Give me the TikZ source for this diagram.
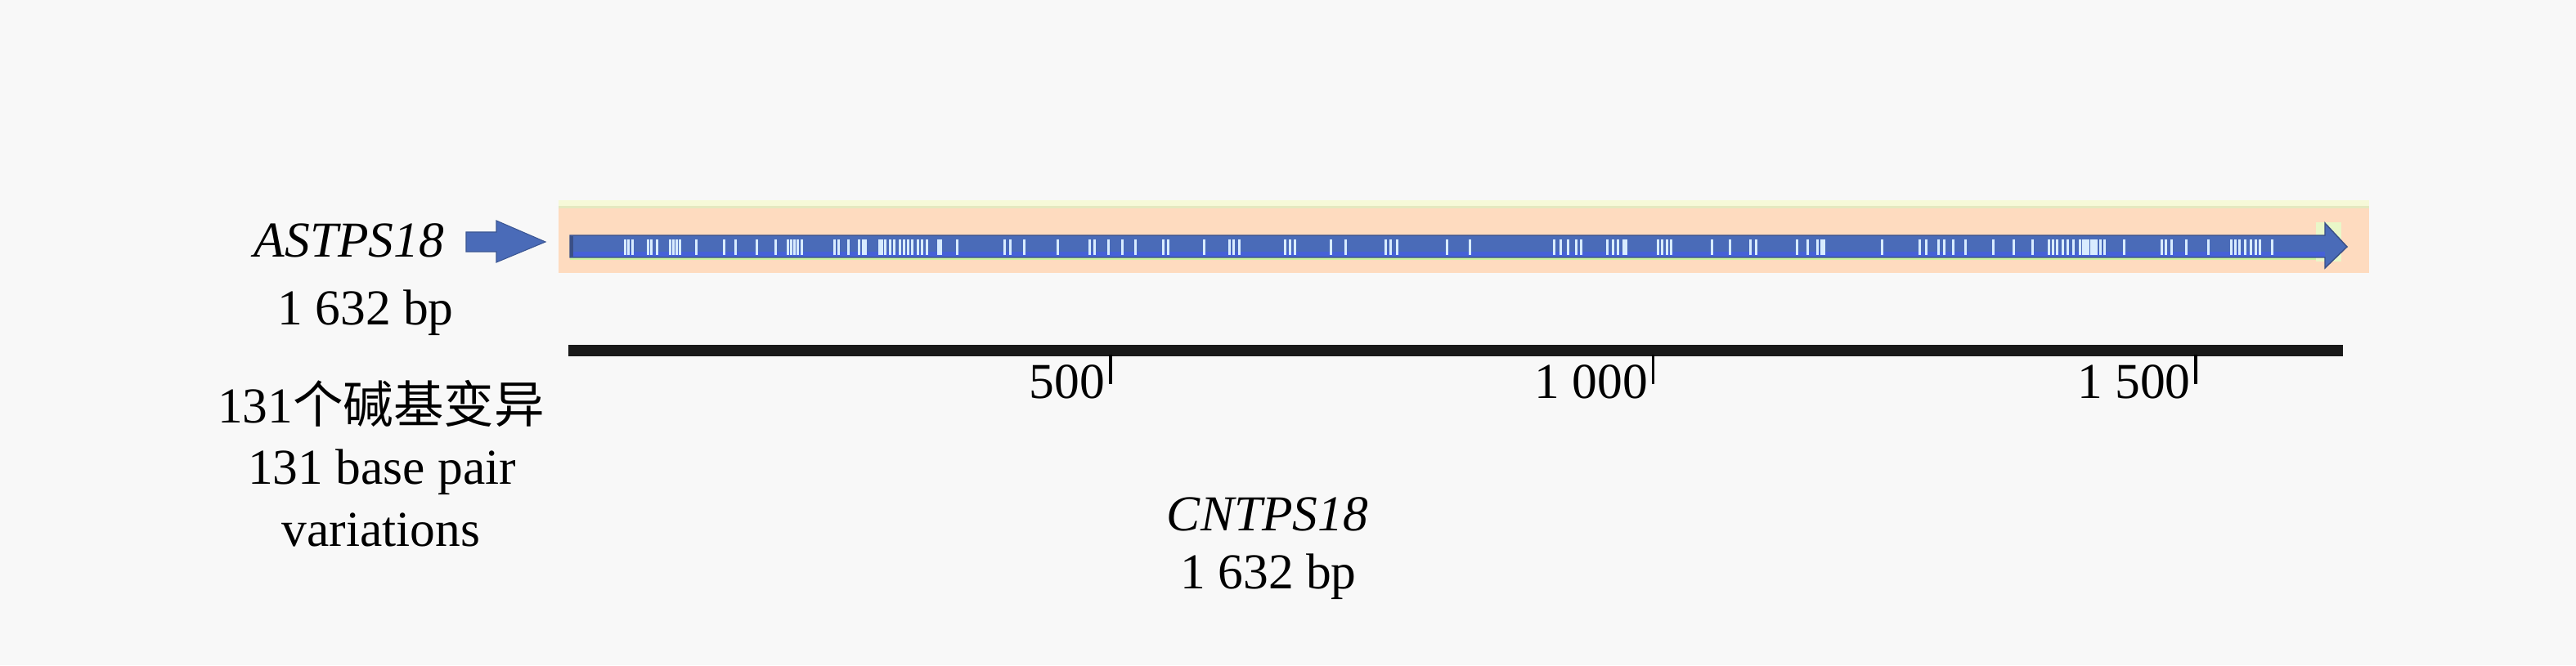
\documentclass[tikz,border=0pt]{standalone}
\usepackage{fontspec}
\setmainfont{Liberation Serif}
\newfontfamily\cjk{Noto Sans CJK SC}
\usepackage{tikz}
\usetikzlibrary{positioning}

\definecolor{bgcol}{HTML}{F8F8F8}
\definecolor{bandcol}{HTML}{FEDBBF}
\definecolor{bandtop}{HTML}{F6F9D8}
\definecolor{bandline}{HTML}{E4E8C0}
\definecolor{genecol}{HTML}{4A6BB8}
\definecolor{genelow}{HTML}{4661D8}
\definecolor{geneedge}{HTML}{3A4F86}
\definecolor{greenline}{HTML}{CBF3A2}
\definecolor{markcol}{HTML}{D8ECFF}

\begin{document}
\begin{tikzpicture}[
    lab/.style={font=\fontsize{17.5}{20}\selectfont, inner sep=0pt, anchor=base},
    genelab/.style={lab, font=\fontsize{17.5}{20}\selectfont\itshape},
    varmark/.style={draw=markcol, line width=0.85pt},
    ticks/.style={draw=black, line width=1.1pt}
]
  \useasboundingbox[fill=bgcol] (0,0) rectangle (31.5,8.14);

  % Alignment band
  \fill[bandcol] (6.83,4.80) rectangle (28.97,5.69);
  \fill[bandtop] (6.83,5.59) rectangle (28.97,5.69);
  \fill[bandline] (6.83,5.59) rectangle (28.97,5.62);
  \fill[greenline] (6.97,4.96) rectangle (28.43,4.99);
  \fill[bandtop!70!greenline] (28.32,4.94) rectangle (28.63,5.42);

  % Gene arrow
  \fill[genecol, draw=geneedge, line width=0.4pt]
      (6.97,5.26) -- (28.43,5.26) -- (28.43,5.41) -- (28.70,5.12)
      -- (28.43,4.86) -- (28.43,4.99) -- (6.97,4.99) -- cycle;
  \fill[genelow] (6.98,5.00) rectangle (28.43,5.06);
  \draw[geneedge, line width=1.2pt] (6.99,5.00) -- (6.99,5.25);

  % Variations
  \foreach \p in {764,768,773,792,796,803,819,823,827,831,851,885,899,925,948,
                  963,967,971,975,980,1020,1025,1037,1050,1055,1058,1075,1078,
                  1082,1088,1093,1100,1105,1110,1115,1122,1127,1133,1147,1150,
                  1170,1228,1235,1252,1293,1332,1338,1355,1372,1388,1422,1428,
                  1472,1503,1508,1515,1571,1577,1583,1627,1645,1694,1700,1708,
                  1769,1797,1900,1908,1917,1927,1933,1965,1972,1978,1985,1988,
                  2027,2032,2038,2043,2093,2115,2140,2147,2197,2210,2222,2227,
                  2230,2301,2347,2355,2370,2377,2388,2403,2437,2462,2485,2505,
                  2510,2515,2522,2528,2535,2543,2547,2550,2553,2557,2560,2563,
                  2568,2573,2597,2643,2648,2655,2673,2700,2728,2733,2738,2745,
                  2752,2758,2763,2778}
    \draw[varmark] (\p/100,5.21) -- (\p/100,5.02);

  % Left arrow
  \fill[genecol, draw=genecol!80!black, line width=0.3pt]
      (5.70,5.30) -- (6.07,5.30) -- (6.07,5.44) -- (6.67,5.18)
      -- (6.07,4.93) -- (6.07,5.06) -- (5.70,5.06) -- cycle;

  % Scale
  \fill[black!90] (6.95,3.78) rectangle (28.65,3.92);
  \foreach \v/\t in {500/500, 1000/{1 000}, 1500/{1 500}} {
    \draw[ticks] (6.94+\v*0.013268,3.80) -- (6.94+\v*0.013268,3.44);
    \node[lab, anchor=base east] (tick\v) at (6.88+\v*0.013268,3.26) {\t};
  }

  % Nodes
  \node[genelab] (astps) at (4.27,4.99) {ASTPS18};
  \node[lab] (astpslen) at (4.47,4.16) {1 632 bp};
  \node[lab] (varcn) at (4.66,2.96) {131{\cjk 个碱基变异}};
  \node[lab] (varen) at (4.67,2.21) {131 base pair};
  \node[lab] (varen2) at (4.66,1.45) {variations};
  \node[genelab] (cntps) at (15.50,1.64) {CNTPS18};
  \node[lab] (cntpslen) at (15.51,0.94) {1 632 bp};
\end{tikzpicture}
\end{document}
